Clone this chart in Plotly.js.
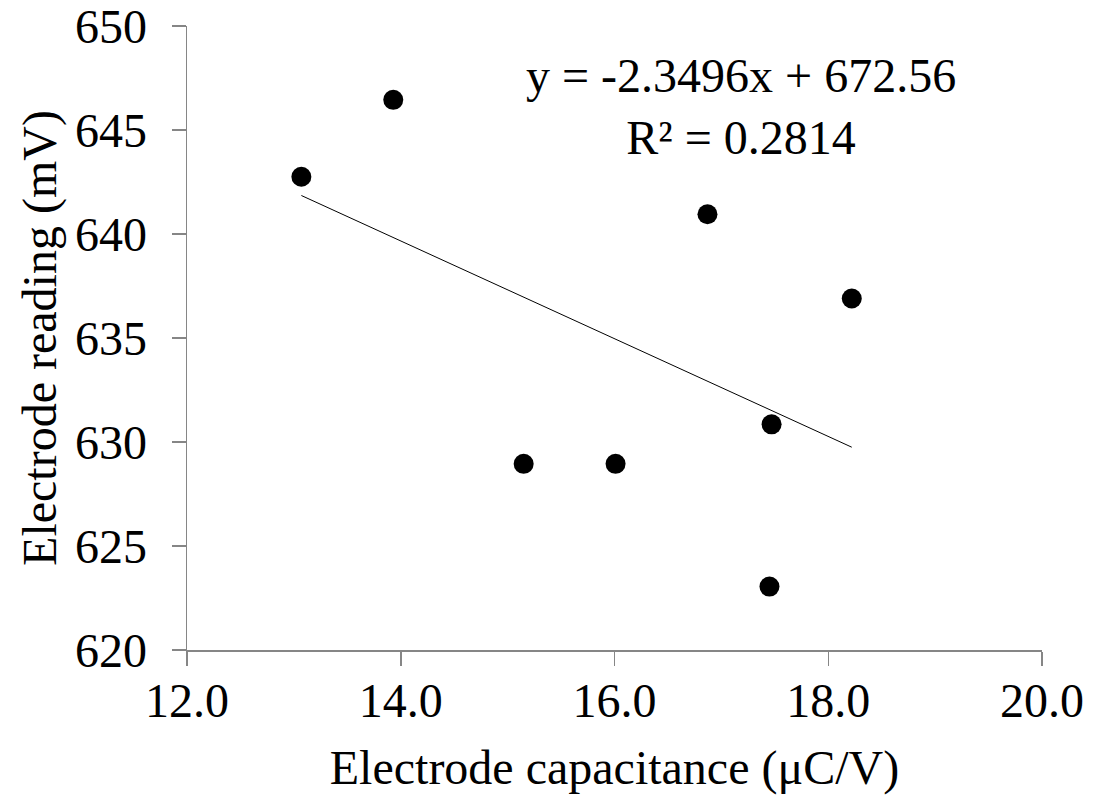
<!DOCTYPE html>
<html>
<head>
<meta charset="utf-8">
<script src="https://cdn.plot.ly/plotly-3.0.1.min.js"></script>
<style>html,body{margin:0;padding:0;background:#fff;}#chart{width:1093px;height:798px;}</style>
</head>
<body>
<div id="chart"></div>
<script>
const capacitance = [13.07, 13.93, 15.15, 16.01, 16.87, 18.22, 17.47, 17.45];
const reading = [642.75, 646.45, 628.95, 628.95, 640.95, 636.9, 630.85, 623.05];
const slope = -2.3496;
const intercept = 672.56;
const rSquared = 0.2814;
const xTicks = [12, 14, 16, 18, 20];
const xTickLabels = ["12.0", "14.0", "16.0", "18.0", "20.0"];
const yTicks = [620, 625, 630, 635, 640, 645, 650];

const xMin = Math.min(...capacitance), xMax = Math.max(...capacitance);
const trendX = [xMin, xMax];
const trendY = trendX.map(x => slope * x + intercept);

const font = "Liberation Serif, Times New Roman, serif";
const axisColor = "#868686";

const data = [
  {x: trendX, y: trendY, mode: "lines", type: "scatter",
   line: {color: "#000", width: 1}, hoverinfo: "skip"},
  {x: capacitance, y: reading, mode: "markers", type: "scatter",
   marker: {color: "#000", size: 20, line: {width: 0}}}
];

const layout = {
  width: 1093, height: 798,
  margin: {l: 187, r: 51, t: 26, b: 148},
  paper_bgcolor: "#fff", plot_bgcolor: "#fff",
  showlegend: false,
  font: {family: font, color: "#000", size: 48},
  xaxis: {
    range: [12, 20], tickvals: xTicks, ticktext: xTickLabels,
    showgrid: false, zeroline: false, showline: true,
    linecolor: axisColor, linewidth: 1.5,
    ticks: "outside", ticklen: 14, tickwidth: 1.5, tickcolor: axisColor,
    ticklabelstandoff: -6, ticklabeloverflow: "allow",
    tickfont: {family: font, size: 48, color: "#000"},
    title: {text: "Electrode capacitance (μC/V)", font: {family: font, size: 48, color: "#000"}, standoff: 24}
  },
  yaxis: {
    range: [620, 650], tickvals: yTicks,
    showgrid: false, zeroline: false, showline: true,
    linecolor: axisColor, linewidth: 1.5,
    ticks: "outside", ticklen: 14, tickwidth: 1.5, tickcolor: axisColor,
    ticklabelstandoff: 15, ticklabeloverflow: "allow",
    tickfont: {family: font, size: 48, color: "#000"},
    title: {text: "Electrode reading (mV)", font: {family: font, size: 48, color: "#000"}, standoff: 3}
  },
  annotations: [{
    xref: "paper", yref: "paper",
    x: (741 - 187) / 855, y: 1 - (107 - 26) / 624,
    xanchor: "center", yanchor: "middle", showarrow: false, align: "center",
    text: "y = " + slope + "x + " + intercept + "<br>R² = " + rSquared,
    font: {family: font, size: 48, color: "#000"}
  }]
};

Plotly.newPlot("chart", data, layout, {displayModeBar: false, staticPlot: true});
</script>
</body>
</html>
